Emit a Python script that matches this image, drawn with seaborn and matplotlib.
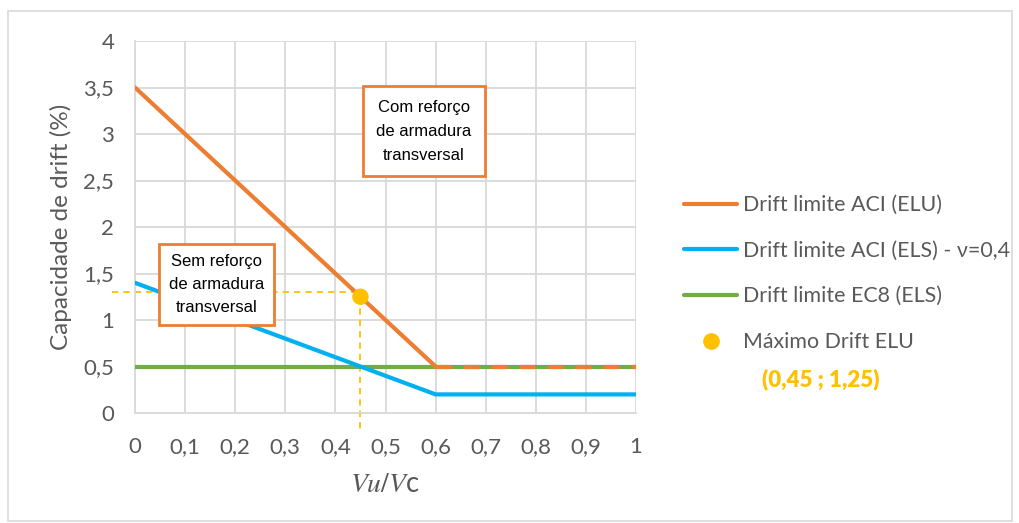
import matplotlib
matplotlib.use("Agg")
import matplotlib.pyplot as plt
from matplotlib.lines import Line2D
from matplotlib.patches import Rectangle
import seaborn as sns

# Series data
x_aci_elu = [0.0, 0.6]
y_aci_elu = [3.5, 0.5]
x_aci_elu_ext = [0.6, 1.0]
y_aci_elu_ext = [0.5, 0.5]
x_aci_els = [0.0, 0.6, 1.0]
y_aci_els = [1.4, 0.2, 0.2]
x_ec8 = [0.0, 1.0]
y_ec8 = [0.5, 0.5]
max_point = (0.45, 1.25)
guide_y = 1.3

xticks = [0, 0.1, 0.2, 0.3, 0.4, 0.5, 0.6, 0.7, 0.8, 0.9, 1.0]
xtick_labels = ["0", "0,1", "0,2", "0,3", "0,4", "0,5", "0,6", "0,7", "0,8", "0,9", "1"]
yticks = [0, 0.5, 1, 1.5, 2, 2.5, 3, 3.5, 4]
ytick_labels = ["0", "0,5", "1", "1,5", "2", "2,5", "3", "3,5", "4"]

legend_labels = ["Drift limite ACI (ELU)", "Drift limite ACI (ELS) - ν=0,4",
                 "Drift limite EC8 (ELS)", "Máximo Drift ELU"]
point_label = "(0,45 ; 1,25)"

ORANGE = "#ED7D31"
BLUE = "#00B0F0"
GREEN = "#70AD47"
GOLD = "#FFC000"
GRID = "#D9D9D9"
TXT = "#595959"

sns.set_theme(style="white")
plt.rcParams["font.family"] = ["Lato", "DejaVu Sans"]
plt.rcParams["mathtext.fontset"] = "stix"

fig = plt.figure(figsize=(10.19, 5.23), dpi=100)
ax = fig.add_axes([135 / 1019, 110 / 523, 501 / 1019, 372 / 523])

# Grid
ax.set_xlim(0, 1)
ax.set_ylim(0, 4)
ax.set_xticks(xticks)
ax.set_yticks(yticks)
ax.grid(True, color=GRID, linewidth=1.3)
ax.set_axisbelow(True)
for s in ["top", "right"]:
    ax.spines[s].set_visible(False)
for s in ["left", "bottom"]:
    ax.spines[s].set_color(GRID)
    ax.spines[s].set_linewidth(1.3)

# Guide lines to the maximum point
ax.plot([-0.046, max_point[0]], [guide_y, guide_y], color=GOLD, lw=1.3,
        ls=(0, (3.5, 2.8)), clip_on=False, zorder=2)
ax.plot([max_point[0], max_point[0]], [max_point[1], -0.18], color=GOLD, lw=1.3,
        ls=(0, (3.5, 2.8)), clip_on=False, zorder=2)

sns.lineplot(x=x_ec8, y=y_ec8, ax=ax, color=GREEN, lw=3, zorder=3)
sns.lineplot(x=x_aci_els, y=y_aci_els, ax=ax, color=BLUE, lw=3, zorder=3)
sns.lineplot(x=x_aci_elu, y=y_aci_elu, ax=ax, color=ORANGE, lw=3, zorder=4)
ax.plot(x_aci_elu_ext, y_aci_elu_ext, color=ORANGE, lw=3, ls=(0, (3.8, 2.9)),
        solid_capstyle="butt", dash_capstyle="butt", clip_on=False, zorder=4)
sns.scatterplot(x=[max_point[0]], y=[max_point[1]], ax=ax, color=GOLD, s=140,
                edgecolor="none", zorder=5)

ax.set_xticklabels(xtick_labels)
ax.set_yticklabels(ytick_labels)
ax.tick_params(axis="x", length=0, labelsize=16, labelcolor=TXT, pad=17)
ax.tick_params(axis="y", length=0, labelsize=16, labelcolor=TXT, pad=15)
ax.set_xlabel(r"$Vu/V$c", fontsize=20, color=TXT, labelpad=10)
ax.set_ylabel("Capacidade de drift (%)", fontsize=17.5, color=TXT, labelpad=8)

# Annotation boxes
box_com = dict(boxstyle="square,pad=0.8", facecolor="white", edgecolor=ORANGE, linewidth=2)
box_sem = dict(boxstyle="square,pad=0.6", facecolor="white", edgecolor=ORANGE, linewidth=2)
ax.text(0.577, 3.03, "Com reforço\nde armadura\ntransversal", ha="center", va="center",
        fontsize=12, family=["Liberation Sans"], color="black", bbox=box_com,
        linespacing=1.75, zorder=6)
ax.text(0.162, 1.38, "Sem reforço\nde armadura\ntransversal", ha="center", va="center",
        fontsize=12, family=["Liberation Sans"], color="black", bbox=box_sem,
        linespacing=1.65, zorder=6)

# Legend
handles = [
    Line2D([], [], color=ORANGE, lw=3),
    Line2D([], [], color=BLUE, lw=3),
    Line2D([], [], color=GREEN, lw=3),
    Line2D([], [], color=GOLD, lw=0, marker="o", markersize=11),
]
leg = fig.legend(handles, legend_labels, loc="upper left",
                 bbox_to_anchor=(684 / 1019, 1 - 195 / 523), frameon=False,
                 fontsize=15.4, labelcolor=TXT, handlelength=2.5, handletextpad=0.25,
                 labelspacing=1.2, borderaxespad=0, borderpad=0)
fig.text(762 / 1019, 1 - 379 / 523, point_label, color=GOLD, fontsize=16,
         fontweight="heavy", ha="left", va="center")

# Outer frame
fig.patches.append(Rectangle((8 / 1019, 2 / 523), 1004 / 1019, 510 / 523,
                             transform=fig.transFigure, fill=False,
                             edgecolor=GRID, linewidth=1.2))

fig.savefig("out.png", dpi=100)
